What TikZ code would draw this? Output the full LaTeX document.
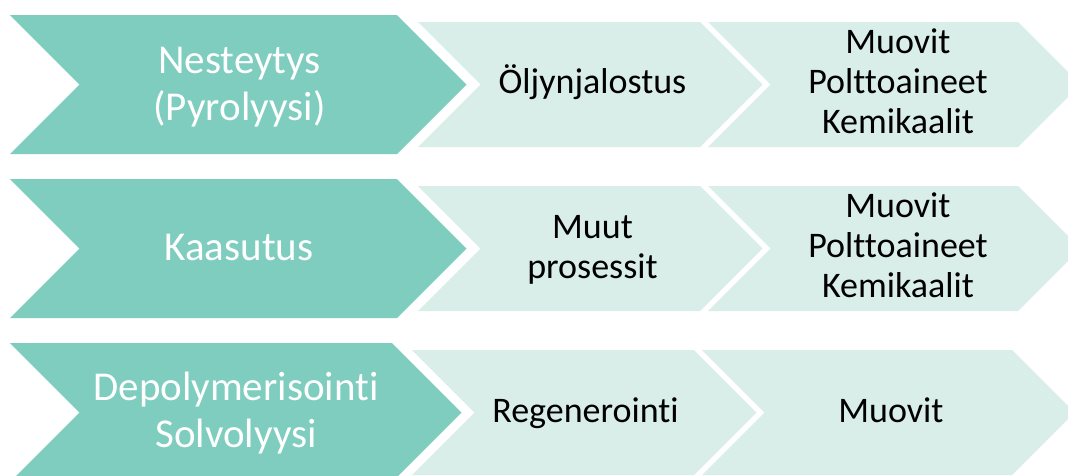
\documentclass[tikz,border=0pt]{standalone}
\usepackage{fontspec}
\setmainfont{Carlito}[Ligatures={NoCommon,NoRare,NoContextual}]
\definecolor{darkteal}{HTML}{7ECDBF}
\definecolor{lightteal}{HTML}{DAEEE9}
\newcommand{\chevron}[5]{%
  \pgfmathsetmacro\chvH{(#5-#4)/2}%
  \pgfmathsetmacro\chvM{(#5+#4)/2}%
  \fill[#1] (#2,#4) -- (#3,#4) -- ({#3+\chvH},\chvM) -- (#3,#5) -- (#2,#5) -- ({#2+\chvH},\chvM) -- cycle;}
\begin{document}
\begin{tikzpicture}[x=1pt,y=-1pt,
  darkchev/.style={fill=darkteal},
  lightchev/.style={fill=lightteal},
  wtext/.style={text=white,font=\fontsize{41}{47}\selectfont,text width=380pt,align=center,anchor=base,inner sep=0pt},
  btext/.style={text=black,font=\fontsize{36}{40}\selectfont,text width=340pt,align=center,anchor=base,inner sep=0pt}]
\clip (0,0) rectangle (1068,475);
\fill[white] (0,0) rectangle (1068,475);
% row 1
\chevron{darkchev}{10}{397}{15}{154}
\chevron{lightchev}{418}{700}{22}{147}
\chevron{lightchev}{708}{1018}{22}{147}
% row 2
\chevron{darkchev}{10}{397}{179}{318}
\chevron{lightchev}{418}{700}{186}{311}
\chevron{lightchev}{708}{1018}{186}{311}
% row 3
\chevron{darkchev}{10}{392}{343}{482}
\chevron{lightchev}{412}{694}{350}{475}
\chevron{lightchev}{702}{1012}{350}{475}
% texts
\node[wtext] (n1) at (239.5,73) {Nesteytys\\(Pyrolyysi)};
\node[btext] (o1) at (592.5,93.3) {Öljynjalostus};
\node[btext] (m1) at (898,53) {Muovit\\Polttoaineet\\Kemikaalit};
\node[wtext] (k2) at (239,260) {Kaasutus};
\node[btext] (p2) at (592.5,238) {Muut\\prosessit};
\node[btext] (m2) at (898,217) {Muovit\\Polttoaineet\\Kemikaalit};
\node[wtext] (d3) at (236,400) {Depolymerisointi\\Solvolyysi};
\node[btext] (r3) at (585.5,422) {Regenerointi};
\node[btext] (m3) at (891,422) {Muovit};
\end{tikzpicture}
\end{document}
